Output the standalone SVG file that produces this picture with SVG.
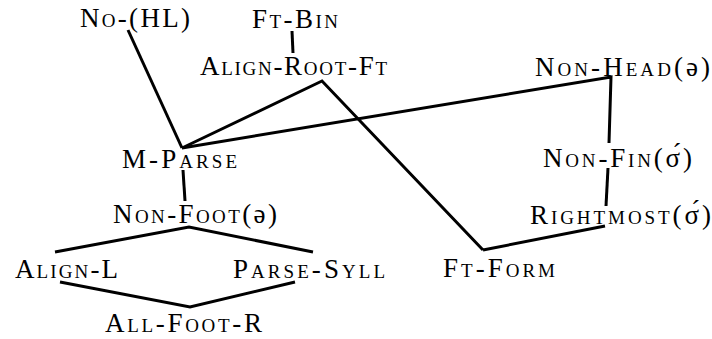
<svg xmlns="http://www.w3.org/2000/svg" width="712" height="339" viewBox="0 0 712 339">
<style>
.t{font-family:"Liberation Serif","Times New Roman",serif;font-size:27px;font-variant:small-caps;fill:#000}
.n{font-variant:normal}
.c line, .c polyline{stroke:#000;stroke-width:3;fill:none;stroke-linejoin:miter}
</style>
<rect width="712" height="339" fill="#fff"/>
<g class="c" id="connectors">
<line x1="128" y1="30" x2="182" y2="148"/>
<line x1="292" y1="31" x2="293" y2="53"/>
<polyline points="182,148 322,81 483,250"/>
<polyline points="182,148 611,77 609,143"/>
<line x1="608" y1="168" x2="606" y2="206"/>
<line x1="605" y1="226" x2="483" y2="250"/>
<line x1="183" y1="170" x2="185" y2="201"/>
<polyline points="55,252 189,227 313,252"/>
<polyline points="60,282 190,307 295,282"/>
</g>
<g id="no-hl"><text class="t" x="80" y="27" textLength="110" lengthAdjust="spacing">No-(HL)</text></g>
<g id="ft-bin"><text class="t" x="252" y="28" textLength="86" lengthAdjust="spacing">Ft-Bin</text></g>
<g id="align-root-ft"><text class="t" x="200" y="75" textLength="187" lengthAdjust="spacing">Align-Root-Ft</text></g>
<g id="non-head"><text class="t" x="535" y="76" textLength="175" lengthAdjust="spacing">Non-Head<tspan class="n">(ə)</tspan></text></g>
<g id="m-parse"><text class="t" x="122" y="168" textLength="115" lengthAdjust="spacing">M-Parse</text></g>
<g id="non-fin"><text class="t" x="543" y="167" textLength="149" lengthAdjust="spacing">Non-Fin<tspan class="n">(σ́)</tspan></text></g>
<g id="non-foot"><text class="t" x="113" y="223" textLength="164" lengthAdjust="spacing">Non-Foot<tspan class="n">(ə)</tspan></text></g>
<g id="rightmost"><text class="t" x="530" y="224" textLength="181" lengthAdjust="spacing">Rightmost<tspan class="n">(σ́)</tspan></text></g>
<g id="align-l"><text class="t" x="15" y="278" textLength="103" lengthAdjust="spacing">Align-L</text></g>
<g id="parse-syll"><text class="t" x="233" y="278" textLength="152" lengthAdjust="spacing">Parse-Syll</text></g>
<g id="ft-form"><text class="t" x="443" y="277" textLength="112" lengthAdjust="spacing">Ft-Form</text></g>
<g id="all-foot-r"><text class="t" x="105" y="332" textLength="157" lengthAdjust="spacing">All-Foot-R</text></g>
</svg>
